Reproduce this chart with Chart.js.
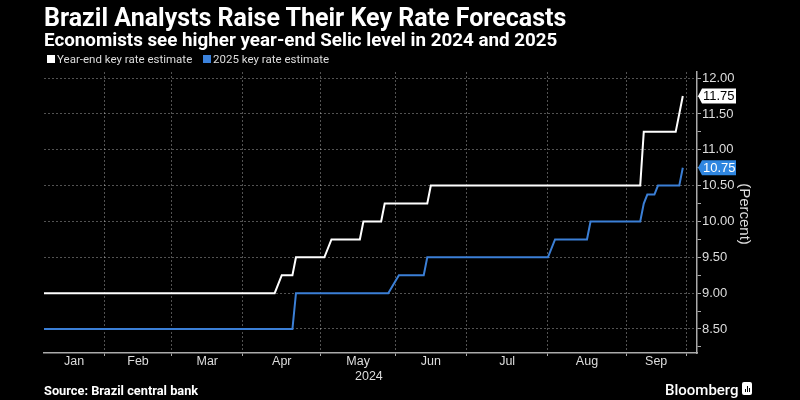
<!DOCTYPE html>
<html>
<head>
<meta charset="utf-8">
<script src="https://cdn.jsdelivr.net/npm/chart.js@4.4.1/dist/chart.umd.min.js"></script>
<style>
  body { margin: 0; background: #000; }
  #wrap { position: relative; width: 800px; height: 400px; background: #000; overflow: hidden; }
  #chart { position: absolute; left: 0; top: 0; }
  .txt { position: absolute; white-space: nowrap; color: #fff; }
  #title { left: 44px; top: 3px; font: bold 25px Roboto; line-height: 29px; }
  #subtitle { left: 44px; top: 29px; font: bold 18.8px Roboto; line-height: 22px; }
  .legend { top: 52.5px; font: 11.5px Roboto; line-height: 13px; color: #ddd; }
  .swatch { position: absolute; top: 55px; width: 8px; height: 8px; }
  #source { left: 44px; top: 383px; font: bold 12.8px Roboto; line-height: 15px; }
  #brand { left: 665px; top: 381px; font: 500 15px Roboto; line-height: 18px; }
  #logo { position: absolute; left: 742px; top: 382px; width: 10px; height: 13px; background: #fff; border-radius: 2px; }
  #logo span { position: absolute; bottom: 3px; width: 1px; background: #000; }
  #year { left: 355px; top: 369px; font: 12.5px "Liberation Sans"; line-height: 14px; color: #ddd; }
  #unit { left: 745px; top: 214px; font: 15px "Liberation Sans"; color: #ddd; transform: translate(-50%, -50%) rotate(90deg); }
</style>
</head>
<body>
<div id="wrap">
  <canvas id="chart" width="800" height="400"></canvas>
  <div class="txt" id="title">Brazil Analysts Raise Their Key Rate Forecasts</div>
  <div class="txt" id="subtitle">Economists see higher year-end Selic level in 2024 and 2025</div>
  <div class="swatch" style="left:47px;background:#fff"></div>
  <div class="txt legend" style="left:57px">Year-end key rate estimate</div>
  <div class="swatch" style="left:203px;background:#3b82dc"></div>
  <div class="txt legend" style="left:213px">2025 key rate estimate</div>
  <div class="txt" id="year">2024</div>
  <div class="txt" id="unit">(Percent)</div>
  <div class="txt" id="source">Source: Brazil central bank</div>
  <div class="txt" id="brand">Bloomberg</div>
  <div id="logo"><span style="left:3px;height:3px"></span><span style="left:5px;height:6px"></span><span style="left:7px;height:4px"></span></div>
</div>
<script>
// x = business day count from the first observation (early Jan 2024)
const monthLabels = ["Jan", "Feb", "Mar", "Apr", "May", "Jun", "Jul", "Aug", "Sep"];
const monthEdges = [0, 17, 36, 56, 78, 99, 119, 142, 164, 181];

const yearEndDays  = [0, 65, 67, 70, 71, 79, 81, 89, 90, 95, 96, 108, 109, 168, 169, 178, 180];
const yearEndRates = [9.00, 9.00, 9.25, 9.25, 9.50, 9.50, 9.75, 9.75, 10.00, 10.00, 10.25, 10.25, 10.50, 10.50, 11.25, 11.25, 11.75];

const rate2025Days  = [0, 70, 71, 97, 100, 107, 108, 142, 144, 153, 154, 168, 169, 170, 172, 173, 179, 180];
const rate2025Rates = [8.50, 8.50, 9.00, 9.00, 9.25, 9.25, 9.50, 9.50, 9.75, 9.75, 10.00, 10.00, 10.25, 10.375, 10.375, 10.50, 10.50, 10.75];

const yTickValues = [8.25, 8.5, 8.75, 9, 9.25, 9.5, 9.75, 10, 10.25, 10.5, 10.75, 11, 11.25, 11.5, 11.75, 12];

const gridColor = "rgba(255,255,255,0.32)";
const axisColor = "#aaaaaa";

const gridEdges = monthEdges.slice(1);
const labelAt = new Map();
monthLabels.forEach((m, i) => labelAt.set((monthEdges[i] + monthEdges[i + 1]) / 2, m));

function toPoints(xs, ys) {
  return xs.map((x, i) => ({ x: x, y: ys[i] }));
}

const lastValueTags = {
  id: "lastValueTags",
  afterDraw(chart) {
    const ctx = chart.ctx;
    const yScale = chart.scales.y;
    const x0 = chart.chartArea.right;
    chart.data.datasets.forEach(ds => {
      const last = ds.data[ds.data.length - 1];
      const py = yScale.getPixelForValue(last.y);
      ctx.save();
      ctx.fillStyle = ds.tagColor;
      ctx.beginPath();
      ctx.moveTo(x0 + 1, py);
      ctx.lineTo(x0 + 5, py - 7.5);
      ctx.lineTo(x0 + 39, py - 7.5);
      ctx.lineTo(x0 + 39, py + 7.5);
      ctx.lineTo(x0 + 5, py + 7.5);
      ctx.closePath();
      ctx.fill();
      ctx.fillStyle = ds.tagText;
      ctx.font = '13px "Liberation Sans"';
      ctx.textBaseline = "middle";
      ctx.fillText(last.y.toFixed(2), x0 + 6, py + 0.5);
      ctx.restore();
    });
  }
};

const ctx = document.getElementById("chart").getContext("2d");
const chart = new Chart(ctx, {
  type: "line",
  data: {
    datasets: [
      {
        label: "Year-end key rate estimate",
        data: toPoints(yearEndDays, yearEndRates),
        borderColor: "#ffffff",
        borderWidth: 2,
        tagColor: "#ffffff",
        tagText: "#000000",
      },
      {
        label: "2025 key rate estimate",
        data: toPoints(rate2025Days, rate2025Rates),
        borderColor: "#3b7fd6",
        borderWidth: 2,
        tagColor: "#2f86e0",
        tagText: "#ffffff",
      },
    ],
  },
  options: {
    responsive: false,
    animation: false,
    events: [],
    elements: { point: { radius: 0 }, line: { tension: 0 } },
    layout: { padding: { left: 44, top: 72, right: 0, bottom: 0 } },
    plugins: { legend: { display: false }, title: { display: false }, tooltip: { enabled: false } },
    scales: {
      x: {
        type: "linear",
        min: 0,
        max: 184,
        afterFit: (scale) => { scale.height = 47; },
        afterBuildTicks: (scale) => {
          const vals = gridEdges.concat(Array.from(labelAt.keys())).sort((a, b) => a - b);
          scale.ticks = vals.map(v => ({ value: v }));
        },
        border: { display: true, color: axisColor, width: 1.5, dash: [2, 2] },
        grid: {
          color: (c) => (c.tick && gridEdges.includes(c.tick.value)) ? gridColor : "transparent",
          tickColor: (c) => (c.tick && gridEdges.includes(c.tick.value)) ? axisColor : "transparent",
          tickBorderDash: [],
          tickLength: 3,
        },
        ticks: {
          autoSkip: false,
          maxRotation: 0,
          padding: -1,
          color: "#dddddd",
          font: { family: "Liberation Sans", size: 12.5, lineHeight: 1 },
          callback: (value) => labelAt.get(value) || "",
        },
      },
      y: {
        position: "right",
        min: 8.165,
        max: 12.085,
        afterFit: (scale) => { scale.width = 103; },
        afterBuildTicks: (scale) => {
          scale.ticks = yTickValues.map(v => ({ value: v }));
        },
        border: { display: true, color: axisColor, width: 1.5, dash: [2, 2] },
        grid: {
          color: (c) => (c.tick && Number.isInteger(c.tick.value * 2)) ? gridColor : "transparent",
          tickColor: axisColor,
          tickBorderDash: [],
          tickLength: 4,
        },
        ticks: {
          padding: 1,
          color: "#dddddd",
          font: { family: "Liberation Sans", size: 13 },
          callback: (value) => Number.isInteger(value * 2) ? value.toFixed(2) : "",
        },
      },
    },
  },
  plugins: [lastValueTags],
});
</script>
</body>
</html>
